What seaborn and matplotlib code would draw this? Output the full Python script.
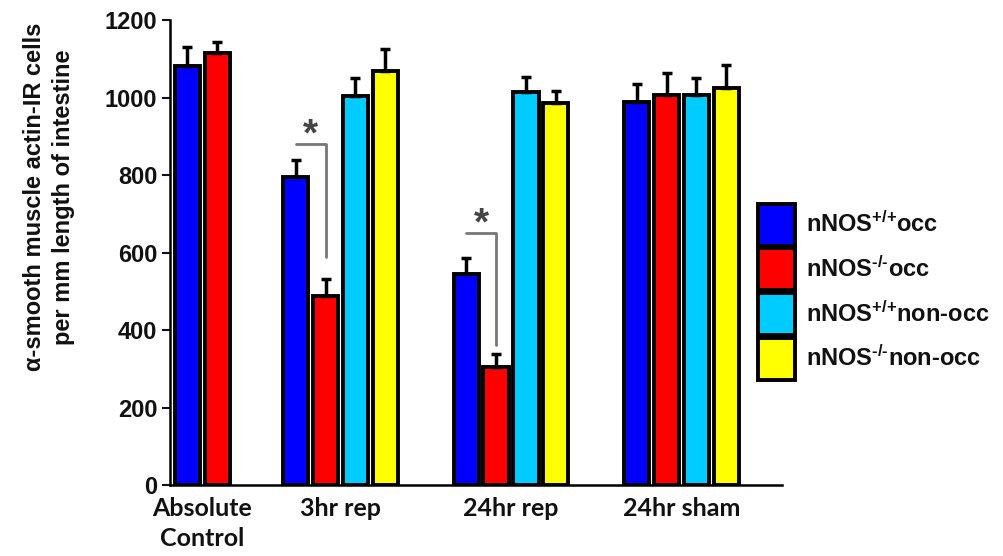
import numpy as np
import pandas as pd
import matplotlib
matplotlib.use('Agg')
import matplotlib.pyplot as plt
import seaborn as sns

# values
groups = ['Absolute\nControl', '3hr rep', '24hr rep', '24hr sham']
series = ['nNOS+/+occ', 'nNOS-/-occ', 'nNOS+/+non-occ', 'nNOS-/-non-occ']
legend_labels = [r'nNOS$^{\text{+/+}}$occ', r'nNOS$^{\text{-/-}}$occ',
                 r'nNOS$^{\text{+/+}}$non-occ', r'nNOS$^{\text{-/-}}$non-occ']
colors = ['#0000FF', '#FF0000', '#00CCFF', '#FFFF00']

occ_wt = [1081, 795, 545, 988]
occ_ko = [1115, 488, 305, 1006]
nonocc_wt = [np.nan, 1004, 1014, 1006]
nonocc_ko = [np.nan, 1068, 986, 1024]

occ_wt_err = [49, 44, 41, 47]
occ_ko_err = [28, 44, 33, 57]
nonocc_wt_err = [np.nan, 46, 39, 44]
nonocc_ko_err = [np.nan, 57, 31, 60]

# significance brackets (3hr rep and 24hr rep): top and bottom of the bracket
sig_groups = ['3hr rep', '24hr rep']
sig_top = [880, 650]
sig_bottom = [588, 361]

# build long table
rows = []
all_vals = [occ_wt, occ_ko, nonocc_wt, nonocc_ko]
all_errs = [occ_wt_err, occ_ko_err, nonocc_wt_err, nonocc_ko_err]
for s, vals, errs in zip(series, all_vals, all_errs):
    for g, v, e in zip(groups, vals, errs):
        if not np.isnan(v):
            rows.append({'group': g, 'series': s, 'value': v, 'err': e})
df = pd.DataFrame(rows)

sns.set_style('white')
plt.rcParams['font.family'] = ['Liberation Sans', 'DejaVu Sans']
plt.rcParams['text.color'] = '#111111'
plt.rcParams['xtick.color'] = '#111111'
plt.rcParams['ytick.color'] = '#111111'
plt.rcParams['mathtext.fontset'] = 'custom'
plt.rcParams['mathtext.rm'] = 'Liberation Sans:bold'
plt.rcParams['mathtext.bf'] = 'Liberation Sans:bold'
plt.rcParams['mathtext.default'] = 'bf'

fig = plt.figure(figsize=(10.04, 5.56), dpi=100)
ax = fig.add_axes([0.1693, 0.1277, 0.6097, 0.8363])

sns.barplot(data=df, x='group', y='value', hue='series', order=groups,
            hue_order=series, palette=colors, saturation=1, width=0.7, gap=0.15,
            edgecolor='black', linewidth=2.8, errorbar=None, ax=ax)

# Absolute Control has only two bars: center them under their label
ctrl_pos = 0.19
ctrl_bars = []
for cont in ax.containers:
    for bar in cont:
        if bar.get_x() + bar.get_width() / 2 < 0.5:
            ctrl_bars.append(bar)
ctrl_mid = np.mean([b.get_x() + b.get_width() / 2 for b in ctrl_bars])
for b in ctrl_bars:
    b.set_x(b.get_x() + ctrl_pos - ctrl_mid)

# one-sided error bars from the bar geometry
centers = {}
for s, cont in zip(series, ax.containers):
    sub = df[df['series'] == s]
    xs = [b.get_x() + b.get_width() / 2 for b in cont]
    hs = [b.get_height() for b in cont]
    for x, h, g in zip(xs, hs, sub['group']):
        centers[(s, g)] = x
    ax.errorbar(xs, hs, yerr=[np.zeros(len(xs)), sub['err'].values], fmt='none',
                ecolor='black', elinewidth=2.5, capsize=3.5, capthick=2.5, zorder=1)

# significance brackets between nNOS+/+occ and nNOS-/-occ
for g, top, bot in zip(sig_groups, sig_top, sig_bottom):
    x1 = centers[(series[0], g)]
    x2 = centers[(series[1], g)]
    ax.plot([x1, x2, x2], [top, top, bot], color='#777777', lw=2, zorder=3)
    ax.text((x1 + x2) / 2, top + 22, '*', ha='center', va='center',
            fontsize=28, fontweight='bold', color='#444444')

ax.set_ylim(0, 1200)
ax.set_xlim(0, 3.59)
ax.set_yticks([0, 200, 400, 600, 800, 1000, 1200])
ax.set_xticks([ctrl_pos, 1, 2, 3])
ax.set_xticklabels(groups, fontfamily='Lato', fontweight='bold', fontsize=18,
                   linespacing=1.35)
for lab in ax.get_yticklabels():
    lab.set_fontweight('bold')
    lab.set_fontsize(17)
ax.tick_params(axis='y', direction='out', length=6, width=1.5, pad=3, left=True)
ax.tick_params(axis='x', length=0, pad=9)
ax.set_xlabel('')
ax.set_ylabel('')
sns.despine(ax=ax)
ax.spines['left'].set_linewidth(1.8)
ax.spines['bottom'].set_linewidth(1.8)
ax.spines['left'].set_color('black')
ax.spines['bottom'].set_color('black')

fig.text(49 / 1004, 1 - 197 / 556,
         u'\u03b1-smooth muscle actin-IR cells\nper mm length of intestine',
         rotation=90, ha='center', va='center', multialignment='center',
         fontsize=17, fontweight='bold', linespacing=1.35)

handles, _ = ax.get_legend_handles_labels()
ax.legend(handles, legend_labels, loc='center left',
          bbox_to_anchor=(758 / 1004, 0.475), bbox_transform=fig.transFigure,
          frameon=False, prop={'weight': 'bold', 'size': 17},
          handlelength=1.55, handleheight=2.36, labelspacing=0.12,
          handletextpad=0.5, borderpad=0, borderaxespad=0)

fig.savefig('out.png', dpi=100)
